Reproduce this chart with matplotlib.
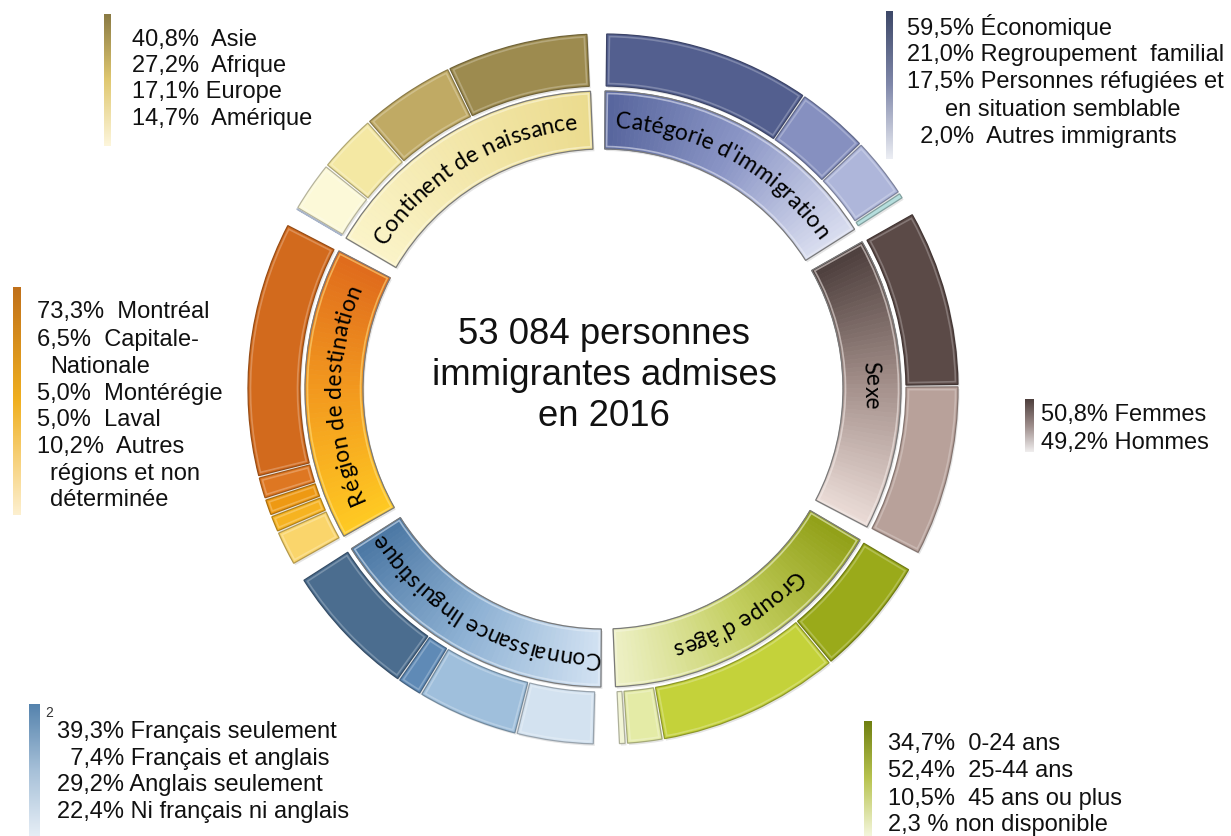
"""
Immigration au Québec 2016 — anneau à six secteurs (reproduction SmartArt).
"""

import numpy as np
import matplotlib
matplotlib.use("Agg")
import matplotlib.pyplot as plt
from matplotlib.patches import Wedge
from matplotlib.colors import LinearSegmentedColormap, to_rgb
from matplotlib.font_manager import FontProperties, findfont, get_font


# ── Data ──────────────────────────────────────────────────────────────────────

total_label = ["53 084 personnes", "immigrantes admises", "en 2016"]

categorie_title = "Catégorie d'immigration"
categorie_pct = [59.5, 21.0, 17.5, 2.0]
categorie_lbl = ["% Économique", "% Regroupement  familial",
                 "% Personnes réfugiées et\nen situation semblable",
                 "%  Autres immigrants"]

sexe_title = "Sexe"
sexe_pct = [50.8, 49.2]
sexe_lbl = ["% Femmes", "% Hommes"]

age_title = "Groupe d'âges"
age_pct = [34.7, 52.4, 10.5, 2.3]
age_lbl = ["%  0-24 ans", "%  25-44 ans", "%  45 ans ou plus", " % non disponible"]

langue_title = "Connaissance linguistique"
langue_pct = [39.3, 7.4, 29.2, 22.4]
langue_lbl = ["% Français seulement", "% Français et anglais",
              "% Anglais seulement", "% Ni français ni anglais"]

region_title = "Région de destination"
region_pct = [73.3, 6.5, 5.0, 5.0, 10.2]
region_lbl = ["%  Montréal", "%  Capitale-\nNationale", "%  Montérégie",
              "%  Laval", "%  Autres\nrégions et non\ndéterminée"]

continent_title = "Continent de naissance"
continent_pct = [40.8, 27.2, 17.1, 14.7]
continent_lbl = ["%  Asie", "%  Afrique", "% Europe", "%  Amérique"]


# ── Layout / style ────────────────────────────────────────────────────────────

W, H, DPI = 1231, 837, 100
CX, CY = 603, H - 390
R_OUT = (303, 355)      # outer band (values)
R_IN = (240, 298)       # inner band (titles)
GAP = 1.4               # half gap between sectors, degrees
ROT = 1.0               # whole ring turned slightly
TXT = "Liberation Sans"

# sector: start angle, direction (+1 ccw / -1 cw), segment colours,
#         inner gradient, legend bar gradient, legend placement
sectors = [
    dict(title=categorie_title, pct=categorie_pct, lbl=categorie_lbl,
         start=90, dir=-1,
         colors=["#535f8f", "#8690c0", "#aeb6da", "#b5dedd"],
         grad=["#56649c", "#8b96c6", "#dadef0"],
         bar=(886, 893, 12, 160), bar_grad=["#3d4868", "#8088aa", "#eceef4"],
         x=907, rows=[27, 53, 80, 108, 135], right=True, cont=38),
    dict(title=sexe_title, pct=sexe_pct, lbl=sexe_lbl,
         start=30, dir=-1,
         colors=["#5b4a47", "#b8a19a"],
         grad=["#4b3d3b", "#a38f8a", "#ebdcd7"],
         bar=(1025, 1034, 400, 453), bar_grad=["#4d3f3d", "#9c8c8a", "#f0eeee"],
         x=1041, rows=[413, 441], right=False, cont=0),
    dict(title=age_title, pct=age_pct, lbl=age_lbl,
         start=-30, dir=-1,
         colors=["#9aaa1a", "#c4d23a", "#e4eba6", "#f2f5d6"],
         grad=["#909f16", "#c4cf60", "#eef1c6"],
         bar=(864, 872, 722, 837), bar_grad=["#6f7f10", "#b8c450", "#f4f6dc"],
         x=888, rows=[742, 769, 797, 823], right=False, cont=0),
    dict(title=langue_title, pct=langue_pct, lbl=langue_lbl,
         start=210, dir=1,
         colors=["#4b6d8f", "#5f8ab6", "#9fbfdc", "#d3e2f0"],
         grad=["#4a76a3", "#8fb2d4", "#d2e2f2"],
         bar=(29, 39, 705, 837), bar_grad=["#5583ad", "#a6c0d8", "#e6eef6"],
         x=57, rows=[730, 757, 783, 810], right=True, cont=0),
    dict(title=region_title, pct=region_pct, lbl=region_lbl,
         start=150, dir=1,
         colors=["#d26a1d", "#de7722", "#ee9913", "#f6b321", "#fad56b"],
         grad=["#df6a1c", "#f39a1e", "#ffca22"],
         bar=(13, 21, 288, 516), bar_grad=["#c0701a", "#f0b020", "#fdf0d0"],
         x=37, rows=[310, 338, 365, 392, 418, 445, 472, 498], right=False,
         cont=13),
    dict(title=continent_title, pct=continent_pct, lbl=continent_lbl,
         start=90, dir=1, rest=True,
         colors=["#9d8b4f", "#c0aa64", "#f4e8a3", "#fcf9d8"],
         grad=["#ebdb8e", "#f3e7aa", "#fbf4c8"],
         bar=(104, 111, 15, 147), bar_grad=["#8a7a44", "#e0c870", "#fdf6dc"],
         x=132, rows=[38, 64, 90, 117], right=False, cont=0),
]


def darker(c, f=0.72):
    r, g, b = to_rgb(c)
    return (r * f, g * f, b * f)


def lighter(c, f=0.45):
    r, g, b = to_rgb(c)
    return (r + (1 - r) * f, g + (1 - g) * f, b + (1 - b) * f)


def num(v):
    return f"{v:.1f}".replace(".", ",")


# ── Curved title text ─────────────────────────────────────────────────────────

def arc_text(ax, s, theta_mid, r_base, size, family="Lato", color="black"):
    """One ax.text per character, laid clockwise along the arc, tops outward."""
    fp = FontProperties(family=family, size=size)
    font = get_font(findfont(fp))
    font.set_size(size, DPI)
    adv = [font.load_char(ord(ch)).linearHoriAdvance / 65536 for ch in s]
    ang = np.deg2rad(theta_mid) + sum(adv) / (2 * r_base)
    for ch, w in zip(s, adv):
        mid = ang - w / (2 * r_base)
        ax.text(CX + r_base * np.cos(ang), CY + r_base * np.sin(ang), ch,
                fontproperties=fp, color=color,
                rotation=np.rad2deg(mid) - 90, rotation_mode="anchor",
                ha="left", va="baseline", zorder=6)
        ang -= w / r_base


# ── Sector ────────────────────────────────────────────────────────────────────

def ring_piece(ax, t1, t2, radii, inset=0.0, **kw):
    lo, hi = sorted((t1, t2))
    inset = min(inset, (hi - lo) / 4)
    ax.add_patch(Wedge((CX, CY), radii[1], lo + inset, hi - inset,
                       width=radii[1] - radii[0], **kw))


def bevel(ax, t1, t2, radii, c, inset):
    """Soft shadow behind the piece and a light inner rim, SmartArt style."""
    lo, hi = sorted((t1, t2))
    inset = min(inset, (hi - lo) / 4)
    ax.add_patch(Wedge((CX + 1.5, CY - 2), radii[1], lo + inset, hi - inset,
                       width=radii[1] - radii[0], facecolor="black",
                       edgecolor="none", alpha=0.10, zorder=2.5))
    if hi - lo > 1.5:
        ax.add_patch(Wedge((CX, CY), radii[1] - 2.5, lo + inset + 0.45,
                           hi - inset - 0.45, width=radii[1] - radii[0] - 5,
                           facecolor="none", edgecolor=lighter(c),
                           lw=1.2, alpha=0.55, zorder=4))


def draw_sector(ax, sec):
    span = 60 - 2 * GAP
    d = sec["dir"]
    a0 = sec["start"] + ROT + d * GAP

    def at(p):
        return a0 + d * span * p / 100

    # outer band, one wedge per value
    pos = 0.0
    for v, c in zip(sec["pct"], sec["colors"]):
        bevel(ax, at(pos), at(pos + v), R_OUT, c, 0.2)
        ring_piece(ax, at(pos), at(pos + v), R_OUT, inset=0.2,
                   facecolor=c, edgecolor=darker(c), lw=0.9, zorder=3)
        pos += v
    if sec.get("rest") and pos < 99.95:
        ring_piece(ax, at(pos), at(100), R_OUT, inset=0.1,
                   facecolor="white", edgecolor="#a8b4c8", lw=1.0, zorder=3)

    # inner band, gradient along the arc
    cmap = LinearSegmentedColormap.from_list("band", sec["grad"])
    bevel(ax, at(0), at(100), R_IN, sec["grad"][-1], 0)
    n = 60
    for k in range(n):
        c = cmap((k + 0.5) / n)
        ring_piece(ax, at(100 * k / n), at(100 * (k + 1) / n), R_IN,
                   facecolor=c, edgecolor=c, lw=0.6, zorder=3)
    ring_piece(ax, at(0), at(100), R_IN,
               facecolor="none", edgecolor="#7a7a7a", lw=0.9, zorder=4)

    arc_text(ax, sec["title"], at(50), 262, 16.5)


# ── Legend with gradient bar ──────────────────────────────────────────────────

def draw_legend(ax, sec):
    x0, x1, y0, y1 = sec["bar"]
    cmap = LinearSegmentedColormap.from_list("bar", sec["bar_grad"])
    ax.imshow(np.linspace(0, 1, 256)[:, None], cmap=cmap, aspect="auto",
              origin="upper", extent=[x0, x1, H - y1, H - y0], zorder=2)

    nums = [num(v) for v in sec["pct"]]
    width = max(len(s) for s in nums)
    rows = iter(sec["rows"])
    for s, lbl in zip(nums, sec["lbl"]):
        pad = "  " * (width - len(s)) if sec["right"] else ""
        lines = lbl.split("\n")
        ax.text(sec["x"], H - (next(rows) + 8), pad + s + lines[0],
                fontsize=17, family=TXT, color="#111111", va="baseline")
        for extra in lines[1:]:
            ax.text(sec["x"] + sec["cont"], H - (next(rows) + 8), extra,
                    fontsize=17, family=TXT, color="#111111", va="baseline")


# ── Figure ────────────────────────────────────────────────────────────────────

fig = plt.figure(figsize=(W / DPI, H / DPI), dpi=DPI)
ax = fig.add_axes([0, 0, 1, 1])

for sec in sectors:
    draw_sector(ax, sec)
    draw_legend(ax, sec)

# stray footnote marker above the language legend
ax.text(45, H - 717, "2", fontsize=10, family=TXT, color="#333333", va="baseline")

for i, line in enumerate(total_label):
    ax.text(604, H - (344 + 41 * i), line, fontsize=26.3, family=TXT,
            color="#111111", ha="center", va="baseline")

ax.set_xlim(0, W)
ax.set_ylim(0, H)
ax.set_aspect("equal")
ax.axis("off")

fig.savefig("out.png", dpi=DPI, facecolor="white")
